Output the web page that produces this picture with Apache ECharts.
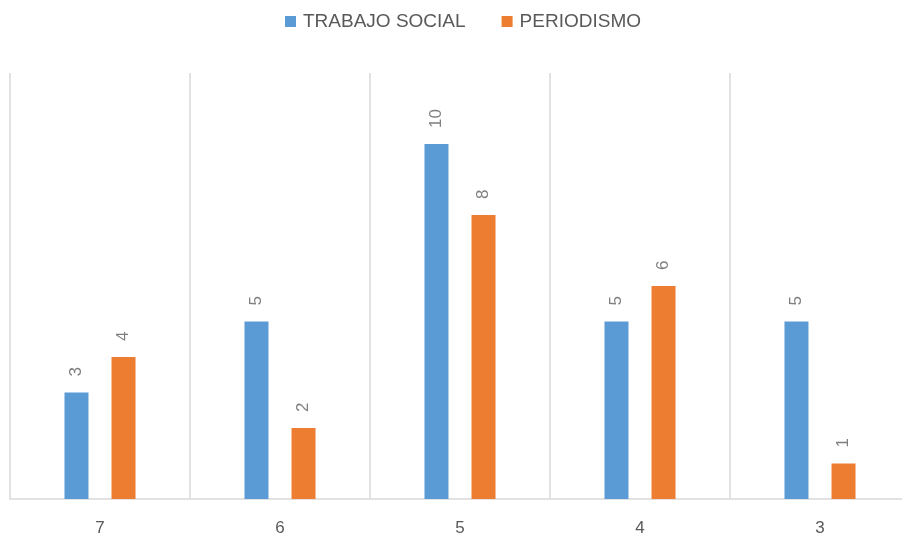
<!DOCTYPE html>
<html><head><meta charset="utf-8">
<script src="https://cdn.jsdelivr.net/npm/echarts@6/dist/echarts.min.js"></script>
<style>html,body{margin:0;padding:0;background:#fff;overflow:hidden;width:902px;height:537px}#c{width:912px;height:537px}</style>
</head><body><div id="c"></div>
<script>
const categories = ['7', '6', '5', '4', '3'];
const trabajoSocial = [3, 5, 10, 5, 5];
const periodismo = [4, 2, 8, 6, 1];
const seriesNames = ['TRABAJO SOCIAL', 'PERIODISMO'];

const chart = echarts.init(document.getElementById('c'));
const font = 'Liberation Sans';
const labelCfg = {
  show: true, position: 'top', rotate: 90, align: 'left', verticalAlign: 'middle',
  distance: 16, color: '#7f7f7f', fontSize: 17, fontFamily: font
};
chart.setOption({
  animation: false,
  color: ['#5b9bd5', '#ed7d31'],
  legend: {
    top: 12, left: 285, itemWidth: 11, itemHeight: 11, itemGap: 36, padding: 0,
    icon: 'rect',
    textStyle: { color: '#595959', fontSize: 19, fontFamily: font, padding: [0, 0, 0, 2] }
  },
  grid: { left: 10, top: 73, right: 2, bottom: 37, containLabel: false },
  xAxis: {
    type: 'category', data: categories,
    axisLine: { lineStyle: { color: '#d9d9d9', width: 1.5 } },
    axisTick: { show: false },
    axisLabel: { color: '#595959', fontSize: 17, fontFamily: font, margin: 21 },
    splitLine: { show: true, lineStyle: { color: '#d9d9d9', width: 1.5 } }
  },
  yAxis: { type: 'value', min: 0, max: 12, show: false, splitLine: { show: false } },
  series: [
    { name: seriesNames[0], type: 'bar', data: trabajoSocial, barWidth: 24, barGap: '96%', label: labelCfg },
    { name: seriesNames[1], type: 'bar', data: periodismo, barWidth: 24, barGap: '96%', label: labelCfg }
  ]
});
</script></body></html>
